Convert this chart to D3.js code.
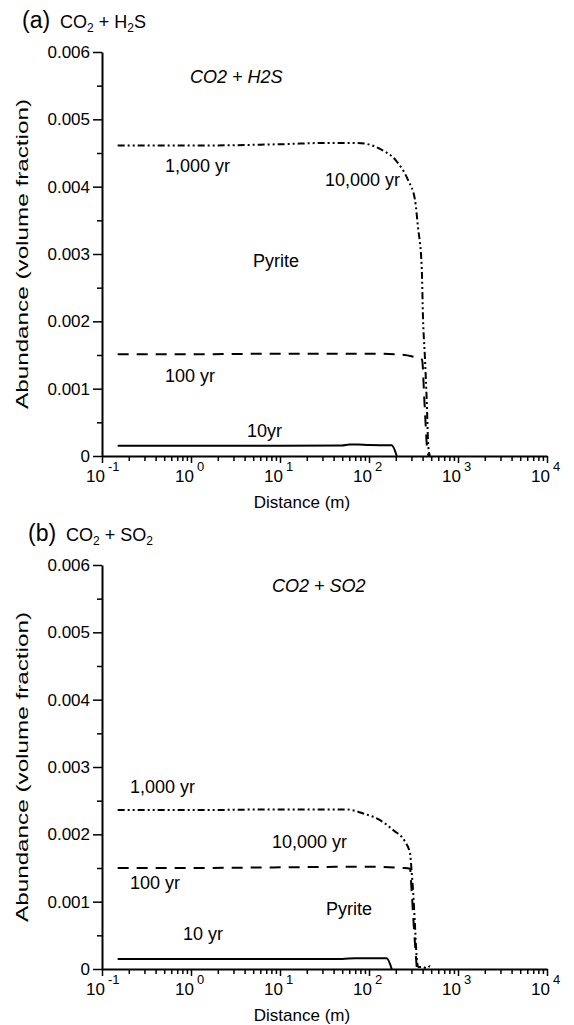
<!DOCTYPE html>
<html>
<head>
<meta charset="utf-8">
<script src="https://cdn.jsdelivr.net/npm/d3@7"></script>
<style>
  body { margin: 0; background: #fff; }
  svg { display: block; font-family: "Liberation Sans", Arial, Helvetica, sans-serif; }
</style>
</head>
<body>
<div id="vis"></div>
<script>
const WIDTH = 574;
const HEIGHT = 1025;

// axis ticks
const decades = [0.1, 1, 10, 100, 1000, 10000];
const decadeExp = ["-1", "0", "1", "2", "3", "4"];
const yMajor = [0, 0.001, 0.002, 0.003, 0.004, 0.005, 0.006];
const yMinor = [0.0005, 0.0015, 0.0025, 0.0035, 0.0045, 0.0055];

// (a) CO2 + H2S  -- distance (m) / abundance (volume fraction)
const a10Dist = [0.15, 1, 10, 50, 60, 75, 100, 180, 205];
const a10Val = [0.000153, 0.000153, 0.000153, 0.000155, 0.00017, 0.00017, 0.000162, 0.00016, 0];
const a100Dist = [0.15, 1, 10, 100, 200, 300, 395, 420, 455, 470];
const a100Val = [0.00151, 0.00151, 0.00152, 0.00152, 0.00151, 0.00148, 0.00143, 0.0008, 0.00005, 0];
const a1000Dist = [0.15, 1, 10, 36, 74, 133, 206, 274, 329, 355, 391, 404, 426, 445, 464, 484];
const a1000Val = [0.00461, 0.00461, 0.00463, 0.00465, 0.00465, 0.00456, 0.00437, 0.0041, 0.0038, 0.0034, 0.00281, 0.00207, 0.00143, 0.00083, 0.00014, 0];

// (b) CO2 + SO2
const b10Dist = [0.15, 1, 10, 50, 70, 100, 158, 180];
const b10Val = [0.00015, 0.00015, 0.00015, 0.00015, 0.00016, 0.00016, 0.00016, 0];
const b100Dist = [0.15, 1, 10, 100, 243, 289, 300, 320, 345];
const b100Val = [0.0015, 0.0015, 0.00151, 0.00152, 0.0015, 0.00149, 0.0012, 0.0006, 0];
const b1000Dist = [0.15, 1, 10, 56, 86, 133, 188, 254, 289, 302, 314, 329, 343, 358, 407, 440, 484, 500];
const b1000Val = [0.00236, 0.00236, 0.00237, 0.00237, 0.00231, 0.00221, 0.00206, 0.00189, 0.00172, 0.00143, 0.00113, 0.00063, 0.00018, 0.00003, 0.00003, 0.00001, 0.00004, 0];

const zip = (xs, ys) => xs.map((v, i) => [v, ys[i]]);

const panels = [
  {
    tag: "(a)", tagX: 22, gas: ["CO", "2", " + H", "2", "S"], top: 52,
    series: [
      {pts: zip(a10Dist, a10Val), dash: null},
      {pts: zip(a100Dist, a100Val), dash: "11,8"},
      {pts: zip(a1000Dist, a1000Val), dash: "7,3,2,3,2,3"}
    ],
    notes: [
      {t: "CO2 + H2S", x: 88, y: 31, it: true},
      {t: "1,000 yr", x: 63, y: 120},
      {t: "10,000 yr", x: 223, y: 134},
      {t: "Pyrite", x: 151, y: 215},
      {t: "100 yr", x: 63, y: 330},
      {t: "10yr", x: 145, y: 385}
    ]
  },
  {
    tag: "(b)", tagX: 28, gas: ["CO", "2", " + SO", "2", ""], top: 565,
    series: [
      {pts: zip(b10Dist, b10Val), dash: null},
      {pts: zip(b100Dist, b100Val), dash: "11,8"},
      {pts: zip(b1000Dist, b1000Val), dash: "7,3,2,3,2,3"}
    ],
    notes: [
      {t: "CO2 + SO2", x: 170, y: 27, it: true},
      {t: "1,000 yr", x: 28, y: 228},
      {t: "10,000 yr", x: 170, y: 283},
      {t: "100 yr", x: 28, y: 324},
      {t: "Pyrite", x: 224, y: 350},
      {t: "10 yr", x: 81, y: 375}
    ]
  }
];

const svg = d3.select("#vis").append("svg")
  .attr("width", WIDTH)
  .attr("height", HEIGHT);

const X0 = 102, X1 = 547, PH = 404;

const x = d3.scaleLog().domain([0.1, 10000]).range([X0, X1]);
const minorX = [];
decades.slice(0, -1).forEach(d => { for (let k = 2; k <= 9; k++) minorX.push(d * k); });

const yFmt = v => v === 0 ? "0" : d3.format(".3f")(v);

panels.forEach(p => {
  const y = d3.scaleLinear().domain([0, 0.006]).range([p.top + PH, p.top]);
  const g = svg.append("g");

  // panel title
  g.append("text")
    .attr("x", p.tagX).attr("y", p.top - 24)
    .attr("font-size", 23)
    .text(p.tag);
  const title = g.append("text")
    .attr("x", p.tagX + 38)
    .attr("y", p.top - 24)
    .attr("font-size", 18);
  p.gas.forEach((s, i) => {
    if (s === "") return;
    if (i % 2 === 1) {
      title.append("tspan").attr("font-size", 12).attr("dy", 4).text(s);
    } else {
      title.append("tspan").attr("dy", i === 0 ? 0 : -4).text(s);
    }
  });

  // y axis
  const yAx = g.append("g").attr("transform", `translate(${X0},0)`)
    .call(d3.axisLeft(y).tickValues(yMajor).tickSize(9).tickSizeOuter(0).tickFormat(yFmt));
  yAx.select(".domain").attr("stroke-width", 2);
  yAx.selectAll(".tick line").attr("stroke-width", 1.5);
  yAx.selectAll(".tick text").attr("font-size", 17).attr("font-family", "Liberation Sans, Arial").attr("fill", "#000").attr("x", -12);
  g.append("g").attr("transform", `translate(${X0},0)`)
    .call(d3.axisLeft(y).tickValues(yMinor).tickSize(5).tickFormat(""))
    .call(s => s.select(".domain").remove())
    .selectAll(".tick line").attr("stroke-width", 1.5);

  // x axis
  const xb = p.top + PH;
  const xAx = g.append("g").attr("transform", `translate(0,${xb})`)
    .call(d3.axisBottom(x).tickValues(decades).tickSize(7).tickSizeOuter(0).tickFormat(""));
  xAx.select(".domain").attr("stroke-width", 2);
  xAx.selectAll(".tick line").attr("stroke-width", 1.5);
  g.append("g").attr("transform", `translate(0,${xb})`)
    .call(d3.axisBottom(x).tickValues(minorX).tickSize(5).tickFormat(""))
    .call(s => s.select(".domain").remove())
    .selectAll(".tick line").attr("stroke-width", 1.5);

  decades.forEach((d, i) => {
    const lab = g.append("text").attr("y", xb + 26).attr("font-size", 17);
    lab.append("tspan").attr("x", x(d) - 16).text("10");
    lab.append("tspan").attr("x", x(d) + 6).attr("dy", -11).attr("font-size", 13).text(decadeExp[i]);
  });

  g.append("text")
    .attr("x", 302).attr("y", xb + 52)
    .attr("text-anchor", "middle").attr("font-size", 17)
    .text("Distance (m)");

  g.append("text")
    .attr("transform", `translate(28,${p.top + PH / 2}) rotate(-90)`)
    .attr("text-anchor", "middle").attr("font-size", 17)
    .attr("textLength", 310).attr("lengthAdjust", "spacingAndGlyphs")
    .text("Abundance (volume fraction)");

  // curves
  const line = d3.line().x(d => x(d[0])).y(d => y(d[1])).curve(d3.curveMonotoneX);
  p.series.forEach(s => {
    g.append("path")
      .attr("d", line(s.pts))
      .attr("fill", "none")
      .attr("stroke", "#000")
      .attr("stroke-width", 2)
      .attr("stroke-dasharray", s.dash);
  });

  // annotations
  p.notes.forEach(n => {
    g.append("text")
      .attr("x", X0 + n.x).attr("y", p.top + n.y)
      .attr("font-size", 18)
      .attr("font-style", n.it ? "italic" : null)
      .text(n.t);
  });
});
</script>
</body>
</html>
